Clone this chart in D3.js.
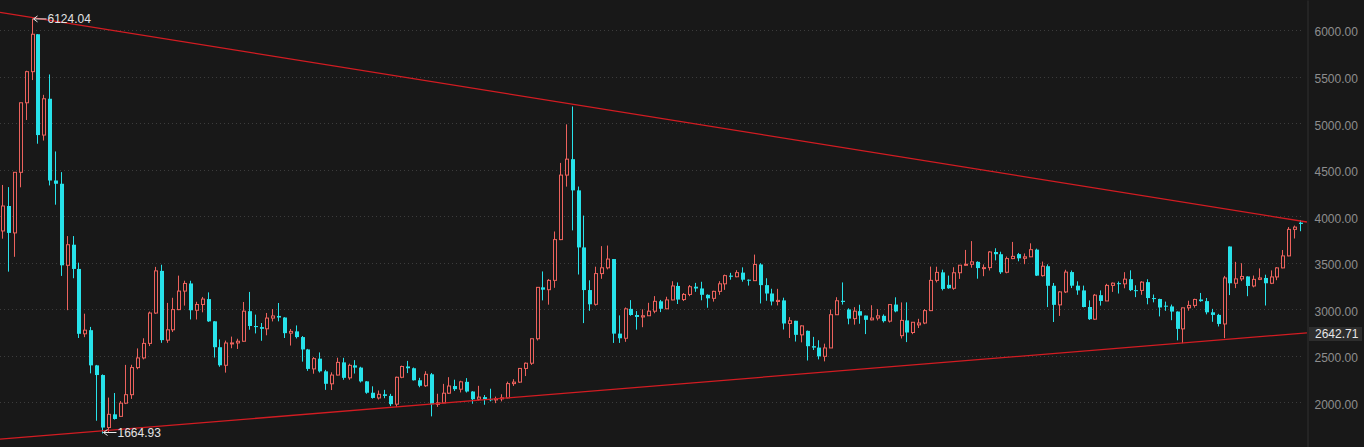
<!DOCTYPE html>
<meta charset="UTF-8">
<style>
  html, body { margin: 0; padding: 0; background: #181818; overflow: hidden; }
  svg text { font-family: "Liberation Sans", Arial, sans-serif; font-size: 12px; }
</style>
<body>
<script src="https://d3js.org/d3.v7.min.js"></script>
<script>
// monthly candles, May 2007 .. Oct 2025
var months = [];
for (var yr = 2007; yr <= 2025; yr++) {
  for (var mo = 1; mo <= 12; mo++) {
    if (yr == 2007 && mo < 5) continue;
    if (yr == 2025 && mo > 10) continue;
    months.push(yr + "-" + (mo < 10 ? "0" + mo : mo));
  }
}

var opens = [
  3841,4109,3820,4471,5218,5552,5954,4871,                              // 2007
  5261,4383,4348,3472,3693,3433,2736,2775,2397,2293,1729,1871,           // 2008
  1849,1991,2082,2373,2477,2633,2959,3412,2668,2779,2996,3195,           // 2009
  3277,2989,3051,3109,2870,2592,2398,2637,2638,2656,2979,2820,           // 2010
  2808,2790,2905,2928,2911,2743,2762,2701,2568,2359,2469,2333,           // 2011
  2199,2293,2429,2263,2397,2373,2225,2103,2047,2086,2069,1980,           // 2012
  2269,2385,2366,2237,2178,2301,1979,1994,2098,2175,2141,2220,           // 2013
  2116,2033,2056,2033,2026,2039,2048,2201,2217,2364,2420,2683,           // 2014
  3235,3210,3310,3748,4441,4612,4277,3664,3206,3053,3383,3445,           // 2015
  3539,2738,2688,3004,2938,2917,2930,2979,3085,3005,3100,3250,           // 2016
  3104,3159,3242,3223,3155,3117,3192,3273,3361,3349,3393,3317,           // 2017
  3307,3481,3259,3169,3083,3095,2847,2876,2725,2768,2603,2588,           // 2018
  2494,2584,2941,3091,2998,2899,2979,2932,2886,2905,2929,2872,           // 2019
  3050,2716,2880,2750,2832,2852,2985,3310,3396,3262,3225,3392,           // 2020
  3473,3483,3509,3442,3447,3615,3591,3397,3544,3592,3547,3563,           // 2021
  3640,3361,3462,3252,3047,3186,3399,3253,3202,3024,2893,3151,           // 2022
  3089,3256,3280,3273,3323,3205,3202,3291,3120,3110,3038,3030,           // 2023
  2975,2789,3015,3041,3105,3087,2967,2939,2842,3674,3279,3326,           // 2024
  3352,3250,3321,3336,3279,3347,3444,3573,3858,3930                      // 2025
];
var highs = [
  4335,4312,4471,5218,5562,6124.04,5956,5303,
  5522,4695,4473,3786,3786,3500,2952,2810,2402,2300,2051,2100,
  2013,2402,2403,2579,2688,2975,3455,3478,3068,3123,3361,3306,
  3306,3080,3132,3181,2872,2676,2663,2706,2683,3078,3186,2942,
  2852,2960,3002,3067,2915,2788,2826,2712,2574,2486,2536,2349,
  2322,2479,2478,2415,2453,2382,2228,2172,2127,2134,2091,2276,
  2394,2445,2374,2263,2334,2315,2092,2198,2270,2243,2232,2260,
  2120,2177,2078,2146,2061,2087,2222,2248,2366,2428,2683,3239,
  3406,3324,3835,4572,4986,5178,4318,4006,3311,3457,3678,3684,
  3539,2934,3019,3098,2980,2999,3069,3141,3100,3134,3301,3288,
  3174,3260,3283,3295,3160,3199,3301,3372,3391,3419,3450,3320,
  3587,3495,3333,3220,3219,3124,2915,2876,2827,2771,2703,2667,
  2630,2997,3129,3288,3010,3022,3048,2932,3043,3001,2944,3052,
  3128,3073,3074,2861,2897,3002,3458,3457,3425,3361,3451,3475,
  3637,3732,3515,3481,3625,3655,3618,3566,3723,3605,3599,3708,
  3651,3512,3482,3282,3194,3424,3416,3300,3254,3095,3164,3202,
  3273,3287,3298,3398,3418,3257,3301,3322,3158,3113,3082,3050,
  2977,3016,3091,3113,3175,3121,3004,2950,3358,3674,3509,3494,
  3353,3362,3439,3371,3417,3453,3636,3883,3899,3958
];
var lows = [
  3758,3404,3563,4310,5033,5462,4778,4812,
  4330,4123,3358,2990,3333,2691,2700,2311,1802,1664.93,1679,1814,
  1844,1981,2037,2355,2461,2604,2950,2639,2639,2755,2990,3039,
  2890,2890,2967,2864,2481,2382,2319,2581,2573,2653,2780,2740,
  2661,2720,2869,2870,2691,2610,2686,2437,2338,2307,2320,2134,
  2132,2290,2242,2242,2309,2213,2092,2040,2030,2044,1959,1949,
  2259,2314,2234,2162,2166,1849,1951,1990,2090,2122,2106,2105,
  1985,2017,1974,2011,1991,2010,2043,2176,2209,2282,2402,2664,
  3095,3049,3230,3742,4317,3847,3373,2851,2983,3039,3327,3428,
  2638,2638,2650,2930,2781,2807,2929,2957,2969,3000,3096,3056,
  3088,3140,3187,3096,3016,3082,3155,3208,3317,3343,3296,3254,
  3304,3062,3091,3041,3041,2782,2691,2653,2644,2449,2562,2461,
  2440,2584,2940,3050,2838,2834,2844,2733,2880,2880,2857,2857,
  2967,2686,2647,2732,2798,2840,2980,3288,3202,3220,3209,3326,
  3466,3446,3328,3355,3416,3525,3379,3386,3538,3515,3484,3560,
  3357,3350,3023,2863,2928,3174,3227,3155,3020,2885,2886,3039,
  3089,3186,3169,3225,3195,3130,3155,3053,3074,2923,2983,2882,
  2666,2635,2985,3017,3080,2945,2865,2815,2689,3152,3227,3302,
  3140,3235,3313,3040,3270,3312,3440,3569,3760,3838
];
var closes = [
  4109,3820,4471,5218,5552,5954,4871,5261,
  4383,4348,3472,3693,3433,2736,2775,2397,2293,1729,1871,1821,
  1991,2082,2373,2477,2633,2959,3412,2668,2779,2996,3195,3277,
  2989,3051,3109,2870,2592,2398,2637,2638,2656,2979,2820,2808,
  2790,2905,2928,2911,2743,2762,2701,2568,2359,2469,2333,2199,
  2293,2429,2263,2397,2373,2225,2103,2047,2086,2069,1980,2269,
  2385,2366,2237,2178,2301,1979,1994,2098,2175,2141,2220,2116,
  2033,2056,2033,2026,2039,2048,2201,2217,2364,2420,2683,3235,
  3210,3310,3748,4441,4612,4277,3664,3206,3053,3383,3445,3539,
  2738,2688,3004,2938,2917,2930,2979,3085,3005,3100,3250,3104,
  3159,3242,3223,3155,3117,3192,3273,3361,3349,3393,3317,3307,
  3481,3259,3169,3083,3095,2847,2876,2725,2821,2603,2588,2494,
  2584,2941,3091,3078,2899,2979,2932,2886,2905,2929,2872,3050,
  2977,2880,2750,2860,2852,2985,3310,3396,3218,3225,3392,3473,
  3483,3509,3442,3447,3615,3591,3397,3544,3568,3547,3563,3640,
  3361,3462,3252,3047,3186,3399,3253,3202,3024,2893,3151,3089,
  3256,3280,3273,3323,3205,3202,3291,3120,3110,3019,3030,2975,
  2789,3015,3041,3105,3087,2967,2939,2842,3336,3279,3326,3352,
  3250,3321,3336,3279,3347,3444,3573,3858,3882,3916
];

var priceTicks = [2000, 2500, 3000, 3500, 4000, 4500, 5000, 5500, 6000];

// trend lines: [candle index, price]
var upperTrend = [[-0.36, 6190], [222.2, 3937]];
var lowerTrend = [[-0.36, 1604], [222.2, 2746]];
var lineLabel = 2642.71;

var width = 1364, height = 447, plotRight = 1307;

var candles = months.map(function(m, i) {
  return {date: m, i: i, o: opens[i], h: highs[i], l: lows[i], c: closes[i]};
});

var x = d3.scaleLinear().domain([0, candles.length - 1]).range([2.14, 1299.9]);
var y = d3.scaleLinear().domain([1520, 6322]).range([height, 0]);

var upColor = "#ec625d", downColor = "#27e2ea", bg = "#181818";

var svg = d3.select("body").append("svg")
    .attr("width", width)
    .attr("height", height);

svg.append("rect").attr("width", width).attr("height", height).attr("fill", bg);

svg.append("defs").append("clipPath").attr("id", "plot")
  .append("rect").attr("x", 0).attr("y", 0).attr("width", plotRight).attr("height", height);

// dotted grid
svg.append("g").selectAll("line")
  .data(priceTicks)
  .enter().append("line")
    .attr("x1", 0).attr("x2", 1304)
    .attr("y1", function(d) { return Math.round(y(d)) + 0.5; })
    .attr("y2", function(d) { return Math.round(y(d)) + 0.5; })
    .attr("stroke", "#3c3c3c")
    .attr("stroke-dasharray", "1,3");

// right price axis
var axis = svg.append("g")
    .attr("transform", "translate(" + (plotRight + 0.5) + ",0)")
    .call(d3.axisRight(y).tickValues(priceTicks).tickFormat(d3.format(".2f"))
      .tickSize(0).tickSizeOuter(0).tickPadding(7));
axis.select(".domain").attr("stroke", "#303030");
axis.selectAll("text")
    .attr("dy", "0.5em")
    .attr("fill", "#8e8e8e")
    .style("font-family", "'Liberation Sans', Arial, sans-serif")
    .style("font-size", "12px");

var plot = svg.append("g").attr("clip-path", "url(#plot)");

// candles
var g = plot.append("g").selectAll("g")
  .data(candles)
  .enter().append("g");

g.append("line")
    .attr("x1", function(d) { return Math.round(x(d.i)) + 0.5; })
    .attr("x2", function(d) { return Math.round(x(d.i)) + 0.5; })
    .attr("y1", function(d) { return y(d.h); })
    .attr("y2", function(d) { return y(d.l); })
    .attr("stroke", function(d) { return d.c >= d.o ? upColor : downColor; })
    .attr("stroke-width", 1);

g.append("rect")
    .attr("x", function(d) { return Math.round(x(d.i)) - 1; })
    .attr("width", function(d) { return d.c >= d.o ? 3 : 4; })
    .attr("y", function(d) { return y(Math.max(d.o, d.c)); })
    .attr("height", function(d) { return Math.max(1, Math.abs(y(d.o) - y(d.c))); })
    .attr("fill", function(d) { return d.c >= d.o ? bg : downColor; })
    .attr("stroke", function(d) { return d.c >= d.o ? upColor : "none"; })
    .attr("stroke-width", 1)
    .attr("transform", function(d) { return d.c >= d.o ? "translate(0.5,0)" : null; });

// trend lines
var trend = d3.line()
    .x(function(d) { return x(d[0]); })
    .y(function(d) { return y(d[1]); });

[upperTrend, lowerTrend].forEach(function(t) {
  plot.append("path")
      .attr("d", trend(t))
      .attr("fill", "none")
      .attr("stroke", "#d21c22")
      .attr("stroke-width", 1.3);
});

// high / low markers
var hi = candles.reduce(function(a, b) { return b.h > a.h ? b : a; });
var lo = candles.reduce(function(a, b) { return b.l < a.l ? b : a; });

function marker(cx, cy, txt) {
  var m = svg.append("g").attr("transform", "translate(" + cx + "," + cy + ")");
  m.append("path")
      .attr("d", "M1,0H14M1,0L5,-3M1,0L5,3")
      .attr("stroke", "#e8e8e8").attr("fill", "none").attr("stroke-width", 1);
  m.append("text")
      .attr("x", 15).attr("dy", "0.35em")
      .attr("fill", "#e4e4e4")
      .text(txt);
}
marker(Math.round(x(hi.i)) + 0.5, y(hi.h) + 0.5, d3.format(".2f")(hi.h));
marker(Math.round(x(lo.i)) + 0.5, y(lo.l) - 1, d3.format(".2f")(lo.l));

// price tag at the end of the lower trend line
var ly = Math.round(y(lowerTrend[1][1])) + 1;
svg.append("rect")
    .attr("x", plotRight + 2).attr("y", ly - 7)
    .attr("width", 53).attr("height", 14)
    .attr("fill", "#2d2d2d");
svg.append("text")
    .attr("x", plotRight + 8).attr("y", ly).attr("dy", "0.35em")
    .attr("fill", "#e6e6e6")
    .text(d3.format(".2f")(lineLabel));
</script>
</body>
